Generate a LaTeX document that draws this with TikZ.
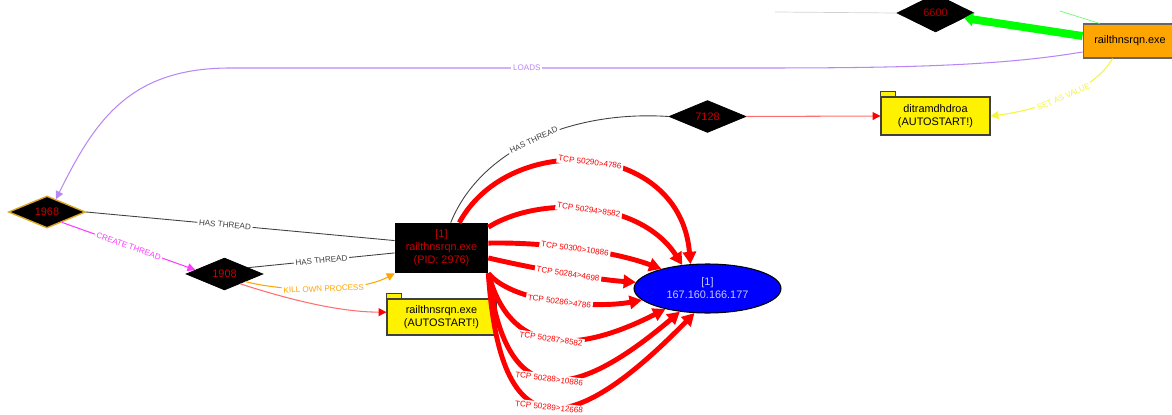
\documentclass[tikz,border=0pt]{standalone}
\usepackage{fontspec}
\setmainfont{Liberation Sans}
\usetikzlibrary{shapes.geometric,arrows.meta}

\definecolor{threadred}{RGB}{200,0,0}
\definecolor{iptext}{RGB}{200,200,255}
\definecolor{loadcol}{RGB}{185,135,245}
\definecolor{goldline}{RGB}{218,165,32}
\definecolor{exeorange}{RGB}{255,165,0}
\definecolor{writered}{RGB}{255,110,110}
\definecolor{setyellow}{RGB}{245,245,60}
\definecolor{threadpink}{RGB}{255,60,255}

\tikzset{
  nodefont/.style={font=\fontsize{6.2}{7.4}\selectfont},
  edgefont/.style={font=\fontsize{4.6}{5.5}\selectfont},
  thread/.style={diamond, aspect=2.4, draw=black, fill=black, text=threadred,
    minimum width=1.54cm, minimum height=0.64cm, inner sep=0pt, nodefont},
  proc/.style={rectangle, fill=black, text=threadred, align=center,
    minimum width=1.86cm, minimum height=1.0cm, inner sep=0pt, nodefont},
  ipaddr/.style={ellipse, draw=black, line width=0.6pt, fill=blue, text=iptext,
    align=center, minimum width=2.94cm, minimum height=0.98cm, inner sep=0pt, nodefont},
  autostart/.style={rectangle, draw=black!75, line width=0.6pt, fill=yellow,
    align=center, minimum width=2.18cm, minimum height=0.72cm, inner sep=0pt, nodefont},
  exefile/.style={rectangle, draw=black!60, line width=0.6pt, fill=exeorange,
    minimum width=1.88cm, minimum height=0.68cm, inner sep=0pt, nodefont},
  foldertab/.style={draw=black!75, line width=0.6pt, fill=yellow},
  lbl/.style={fill=white, inner sep=1pt, sloped, edgefont},
  tcp/.style={red, line width=2.8pt, -{Triangle[length=7pt,width=7.5pt]}},
  hasthread/.style={black!75, line width=0.5pt},
  writes/.style={writered, line width=0.6pt, -{Triangle[length=4.5pt,width=4.5pt,color=red]}},
  loads/.style={loadcol, line width=0.6pt, -{Triangle[length=4.5pt,width=4.5pt]}},
  createthread/.style={threadpink, line width=0.6pt, -{Triangle[length=4.5pt,width=4.5pt]}},
  killproc/.style={exeorange, line width=0.6pt, -{Triangle[length=4.5pt,width=4.5pt]}},
  setvalue/.style={setyellow, line width=0.6pt, -{Triangle[length=4.5pt,width=4.5pt]}},
  greenflow/.style={green, line width=4.5pt, -{Triangle[length=5pt,width=7.5pt]}}
}

\begin{document}
\begin{tikzpicture}[x=0.02cm, y=-0.02cm]
\useasboundingbox (0,0) rectangle (1172,415);
\clip (0,0) rectangle (1172,415);

\node[proc] (main) at (441.5,248) {[1]\\railthnsrqn.exe\\(PID: 2976)};
\node[ipaddr] (ip) at (707.5,288.5) {[1]\\167.160.166.177};
\node[thread, draw=goldline, line width=0.8pt] (t1968) at (47,212) {1968};
\node[thread] (t1908) at (224.5,274) {1908};
\node[thread] (t7128) at (707.5,116.5) {7128};
\node[thread, minimum height=0.76cm, text=threadred!80!black] (t6600) at (935.5,13) {6600};
\node[autostart] (auto1) at (441.5,317) {railthnsrqn.exe\\(AUTOSTART!)};
\node[autostart, minimum height=0.76cm] (auto2) at (935.5,116) {ditramdhdroa\\(AUTOSTART!)};
\node[exefile] (exe) at (1130,41) {railthnsrqn.exe};
\coordinate (greentop) at (1060,11);
\coordinate (graytop) at (775,12);

\draw[foldertab] (auto1.north west) rectangle ++(15,-5);
\draw[foldertab] (auto2.north west) rectangle ++(15,-5);
\fill[black!70] (exe.north east) ++(-7,0) -- ++(7,0) -- ++(0,4) -- cycle;

\draw[gray!35] (graytop) -- (t6600.west);
\draw[green!60, line width=0.4pt] (greentop) -- (exe.150);
\draw[greenflow] (exe.174) -- (t6600.-10);

\draw[loads] (exe.193) .. controls (1000,66) and (900,68) .. (760,68)
  -- node[lbl, pos=0.44]{LOADS} (230,68)
  .. controls (130,68) and (95,120) .. (t1968.55);
\draw[setvalue] (exe.-135) .. controls (1095,90) and (1040,110) .. (auto2.east)
  node[lbl, pos=0.5]{SET AS VALUE};

\draw[hasthread] (main.171) -- node[lbl, pos=0.55]{HAS THREAD} (t1968.east);
\draw[hasthread] (main.186) -- node[lbl]{HAS THREAD} (t1908.15);
\draw[hasthread] (main.70) .. controls (480,150) and (570,110) .. (t7128.west)
  node[lbl, pos=0.5]{HAS THREAD};
\draw[writes] (t7128.east) -- (auto2.west);

\draw[createthread] (t1968.-35) -- node[lbl]{CREATE THREAD} (t1908.172);
\draw[killproc] (t1908.-20) .. controls (290,293) and (360,292) .. (main.south west)
  node[lbl, pos=0.5]{KILL OWN PROCESS};
\draw[writes] (t1908.-32) .. controls (290,300) and (340,312) .. (auto1.175);

\draw[tcp] (main.55) .. controls (510,130) and (680,140) .. (ip.125)
  node[lbl, pos=0.5]{TCP 50290>4786};
\draw[tcp] (main.24) .. controls (540,195) and (640,200) .. (ip.137)
  node[lbl, pos=0.5]{TCP 50294>8582};
\draw[tcp] (main.6) .. controls (540,242) and (610,250) .. (ip.157)
  node[lbl, pos=0.5]{TCP 50300>10886};
\draw[tcp] (main.-12) .. controls (540,270) and (600,280) .. (ip.175)
  node[lbl, pos=0.5]{TCP 50284>4698};
\draw[tcp] (main.south east) .. controls (515,305) and (600,308) .. (ip.190)
  node[lbl, pos=0.5]{TCP 50286>4786};
\draw[tcp] (main.south east) .. controls (510,355) and (575,355) .. (ip.206)
  node[lbl, pos=0.5]{TCP 50287>8582};
\draw[tcp] (main.south east) .. controls (505,410) and (570,405) .. (ip.220)
  node[lbl, pos=0.5]{TCP 50288>10886};
\draw[tcp] (main.south east) .. controls (500,450) and (570,440) .. (ip.242)
  node[lbl, pos=0.5]{TCP 50289>12668};
\end{tikzpicture}
\end{document}
